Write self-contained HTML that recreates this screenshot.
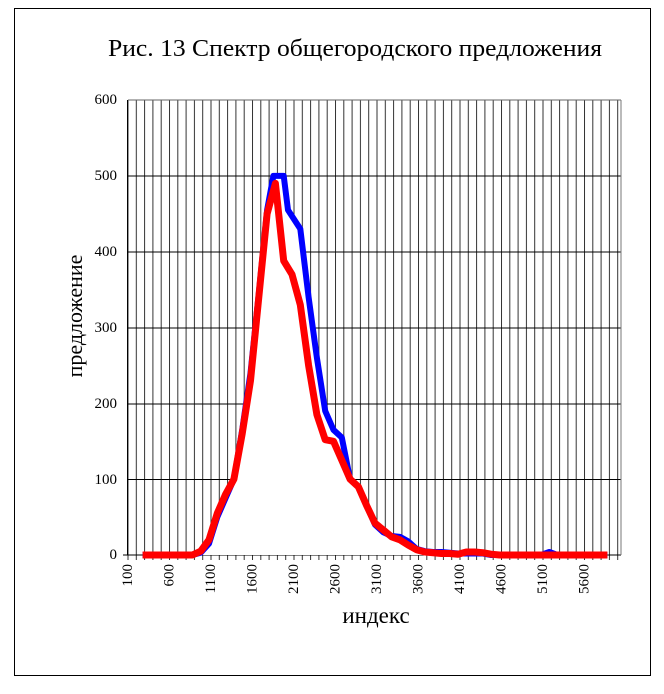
<!DOCTYPE html>
<html><head><meta charset="utf-8"><style>
body{margin:0;background:#fff;}
</style></head><body>
<svg width="664" height="689" xmlns="http://www.w3.org/2000/svg" font-family="Liberation Serif, serif">
<defs>
<pattern id="vg" patternUnits="userSpaceOnUse" x="127.5" y="0" width="8.3" height="689">
<rect x="0" y="0" width="1" height="689" fill="#333"/>
</pattern>
</defs>
<rect x="0" y="0" width="664" height="689" fill="#fff"/>
<rect x="14.5" y="8.5" width="636" height="667" fill="none" stroke="#000" stroke-width="1"/>
<text x="355" y="56" font-size="24" text-anchor="middle" textLength="494" lengthAdjust="spacingAndGlyphs">Рис. 13 Спектр общегородского предложения</text>
<rect x="127.5" y="100" width="493.5" height="460" fill="url(#vg)"/>
<g stroke="#000" stroke-width="1">
<line x1="128" y1="100" x2="621" y2="100" stroke="#666"/>
<line x1="128" y1="176" x2="621" y2="176"/>
<line x1="128" y1="252" x2="621" y2="252"/>
<line x1="128" y1="328" x2="621" y2="328"/>
<line x1="128" y1="404" x2="621" y2="404"/>
<line x1="128" y1="479.5" x2="621" y2="479.5"/>
<line x1="123" y1="555" x2="621" y2="555"/>
<line x1="127.5" y1="100" x2="127.5" y2="555"/>
<line x1="621" y1="100" x2="621" y2="555" stroke="#777"/>
</g>
<g transform="translate(-2,0)">
<polygon fill="#fff" points="144.6,555 194.4,555 202.7,552.7 211,543.6 219.3,517.1 227.6,498.1 235.9,479.2 244.2,429.9 252.5,373 260.8,293.4 269.1,210 275.4,175.9 285.7,175.9 290,210 302.3,228.9 310.6,297.2 318.9,357.8 327.2,410.9 335.5,429.9 343.8,437.5 352.1,479.2 360.4,486.8 368.7,505.7 377,524.7 385.3,532.3 393.6,536 401.9,536.8 410.2,541.4 418.5,548.9 426.8,551.2 435.1,552 443.4,552 451.7,552.7 484.9,553.5 493.2,555"/>
<polygon fill="#fff" points="144.6,555 194.4,555 202.7,551.2 211,539.8 219.3,513.3 227.6,494.3 235.9,479.2 244.2,433.7 252.5,380.6 260.8,297.2 269.1,213.8 277.4,183.4 285.7,260.8 294,274.4 302.3,304.8 310.6,365.4 318.9,414.7 327.2,439.7 335.5,441.3 343.8,460.2 352.1,479.2 360.4,486.8 368.7,505.7 377,523.2 385.3,530 393.6,536.8 401.9,539.8 410.2,545.1 418.5,549.7 426.8,552 435.1,552.7 460,554.2 468.3,552 476.6,552 493.2,554.2 501.5,555"/>
<polyline fill="none" stroke="#0000ff" stroke-width="6" stroke-linejoin="round" points="144.6,555 194.4,555 202.7,552.7 211,543.6 219.3,517.1 227.6,498.1 235.9,479.2 244.2,429.9 252.5,373 260.8,293.4 269.1,210 275.4,175.9 285.7,175.9 290,210 302.3,228.9 310.6,297.2 318.9,357.8 327.2,410.9 335.5,429.9 343.8,437.5 352.1,479.2 360.4,486.8 368.7,505.7 377,524.7 385.3,532.3 393.6,536 401.9,536.8 410.2,541.4 418.5,548.9 426.8,551.2 435.1,552 443.4,552 451.7,552.7 460,553.5 484.9,553.5 493.2,555 543,555 551.3,552 559.6,555 609.4,555"/>
<polyline fill="none" stroke="#ff0000" stroke-width="7" stroke-linejoin="round" points="144.6,555 194.4,555 202.7,551.2 211,539.8 219.3,513.3 227.6,494.3 235.9,479.2 244.2,433.7 252.5,380.6 260.8,297.2 269.1,213.8 277.4,183.4 285.7,260.8 294,274.4 302.3,304.8 310.6,365.4 318.9,414.7 327.2,439.7 335.5,441.3 343.8,460.2 352.1,479.2 360.4,486.8 368.7,505.7 377,523.2 385.3,530 393.6,536.8 401.9,539.8 410.2,545.1 418.5,549.7 426.8,552 435.1,552.7 443.4,553.5 451.7,553.5 460,554.2 468.3,552 476.6,552 484.9,552.7 493.2,554.2 501.5,555 609.4,555"/>
</g>
<g font-size="15" text-anchor="end">
<text x="117" y="104">600</text><text x="117" y="180">500</text><text x="117" y="256">400</text>
<text x="117" y="332">300</text><text x="117" y="408">200</text><text x="117" y="484">100</text>
<text x="117" y="559">0</text>
</g>
<g font-size="15" text-anchor="end">
<text transform="translate(132,564) rotate(-90)">100</text>
<text transform="translate(173.5,564) rotate(-90)">600</text>
<text transform="translate(215,564) rotate(-90)">1100</text>
<text transform="translate(256.5,564) rotate(-90)">1600</text>
<text transform="translate(298,564) rotate(-90)">2100</text>
<text transform="translate(339.5,564) rotate(-90)">2600</text>
<text transform="translate(381,564) rotate(-90)">3100</text>
<text transform="translate(422.5,564) rotate(-90)">3600</text>
<text transform="translate(464,564) rotate(-90)">4100</text>
<text transform="translate(505.5,564) rotate(-90)">4600</text>
<text transform="translate(547,564) rotate(-90)">5100</text>
<text transform="translate(588.5,564) rotate(-90)">5600</text>
</g>
<text x="376" y="623" font-size="23" text-anchor="middle">индекс</text>
<text transform="translate(82,316) rotate(-90)" font-size="22" text-anchor="middle">предложение</text>
</svg>
</body></html>
